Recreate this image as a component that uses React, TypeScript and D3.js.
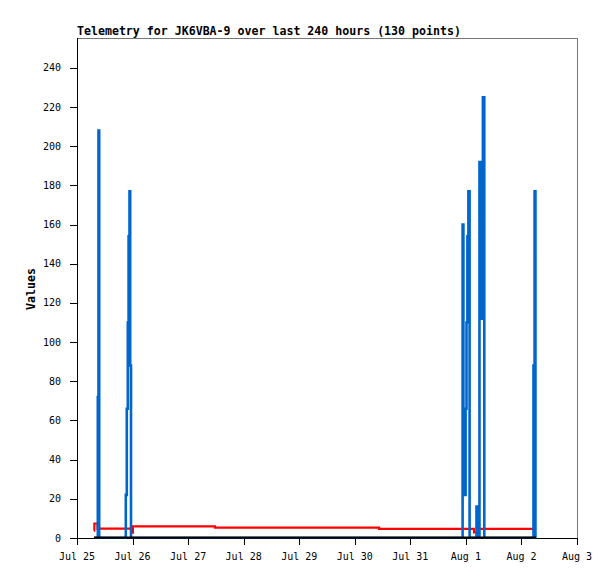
import React from "react";
import * as d3 from "d3";

// Hours since Jul 25 00:00, value
const ch1Points: [number, number][] = [
  [7.34, 0], [8.99, 72], [9.29, 208], [9.59, 0],
  [21.08, 22], [21.51, 66], [21.95, 110], [22.29, 154], [22.68, 177], [22.98, 88], [23.33, 0],
  [166.58, 160], [166.93, 22], [167.87, 66], [168.26, 110], [168.65, 154], [169.08, 177], [169.6, 0],
  [172.58, 16], [172.88, 0], [173.87, 192], [174.22, 112], [175.35, 225], [175.95, 0],
  [197.2, 88], [197.68, 177], [198.05, 0], [198.3, 0],
];
const ch2Points: [number, number][] = [
  [7.34, 3.7], [7.5, 7.4], [8.9, 4.75], [23.5, 2.7], [24.15, 5.9],
  [59.6, 5.3], [130.5, 4.7], [171.5, 2.8], [173.5, 4.7], [197.0, 4.7],
];
const ch3Points: [number, number][] = [
  [7.34, 0], [198.3, 0],
];
const dayLabels = ["Jul 25", "Jul 26", "Jul 27", "Jul 28", "Jul 29", "Jul 30", "Jul 31", "Aug 1", "Aug 2", "Aug 3"];
const yTicks = [0, 20, 40, 60, 80, 100, 120, 140, 160, 180, 200, 220, 240];
const title = "Telemetry for JK6VBA-9 over last 240 hours (130 points)";
const yLabel = "Values";

const W = 615, H = 579;
const L = 77, R = 577, T = 38, B = 538;
const mono = "'DejaVu Sans Mono', monospace";

export default function App() {
  const x = d3.scaleLinear().domain([0, 216]).range([L, R]);
  const y = d3.scaleLinear().domain([0, 255.3]).range([B, T]);
  const line = d3
    .line<[number, number]>()
    .x((d) => x(d[0]))
    .y((d) => y(d[1]))
    .curve(d3.curveStepAfter);

  return (
    <svg
      width={W}
      height={H}
      style={{ position: "fixed", left: 0, top: 0, background: "#fff" }}
      shapeRendering="crispEdges"
    >
      <defs>
        <clipPath id="plot">
          <rect x={L} y={T} width={R - L} height={B - T + 0.5} />
        </clipPath>
      </defs>
      <rect x={0} y={0} width={W} height={H} fill="#fff" />
      <text x={L} y={35} fontFamily={mono} fontWeight="bold" fontSize={11.6} fill="#000">
        {title}
      </text>
      <text
        transform={`translate(35,289) rotate(-90)`}
        textAnchor="middle"
        fontFamily={mono}
        fontWeight="bold"
        fontSize={11.6}
        fill="#000"
      >
        {yLabel}
      </text>
      {/* frame */}
      <line x1={L} y1={T + 0.5} x2={R} y2={T + 0.5} stroke="#777" />
      <line x1={R + 0.5} y1={T} x2={R + 0.5} y2={B} stroke="#777" />
      <line x1={L + 0.5} y1={T} x2={L + 0.5} y2={B + 1} stroke="#000" />
      <line x1={L} y1={B + 0.5} x2={R + 1} y2={B + 0.5} stroke="#000" />
      {/* y ticks */}
      {yTicks.map((t) => (
        <g key={t}>
          <line x1={L - 7} x2={L} y1={Math.round(y(t)) + 0.5} y2={Math.round(y(t)) + 0.5} stroke="#000" />
          <text x={61} y={y(t) + 3.5} textAnchor="end" fontFamily={mono} fontSize={10} fill="#000">
            {t}
          </text>
        </g>
      ))}
      {/* x ticks */}
      {dayLabels.map((lab, i) => (
        <g key={lab}>
          <line
            x1={Math.round(x(i * 24)) + 0.5}
            x2={Math.round(x(i * 24)) + 0.5}
            y1={B}
            y2={B + 7}
            stroke="#000"
          />
          <text x={x(i * 24)} y={560} textAnchor="middle" fontFamily={mono} fontSize={10} fill="#000">
            {lab}
          </text>
        </g>
      ))}
      <g clipPath="url(#plot)" shapeRendering="auto">
        <path d={line(ch2Points) ?? ""} fill="none" stroke="#ff0000" strokeWidth={2.2} />
        <path d={line(ch1Points) ?? ""} fill="none" stroke="#0066cc" strokeWidth={2.6} />
        <path d={line(ch3Points) ?? ""} fill="none" stroke="#000" strokeWidth={3} />
      </g>
    </svg>
  );
}
